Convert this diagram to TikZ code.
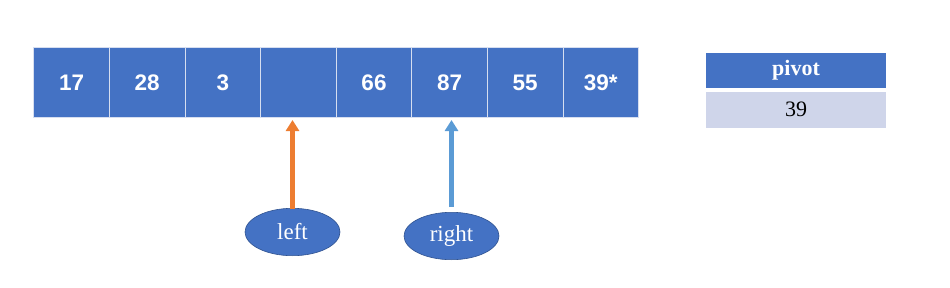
\documentclass[tikz,border=0pt]{standalone}
\usepackage{fontspec}
\setmainfont{Liberation Serif}
\newfontfamily\arialf{Liberation Sans}
\usetikzlibrary{arrows.meta,shapes.geometric}
\definecolor{cblue}{HTML}{4472C4}
\definecolor{cline}{HTML}{D6DEF0}
\definecolor{clight}{HTML}{CFD5EA}
\definecolor{corange}{HTML}{ED7D31}
\definecolor{carrowblue}{HTML}{5B9BD5}
\definecolor{cedge}{HTML}{2F528F}
\begin{document}
\begin{tikzpicture}[x=1pt,y=-1pt,
  cell/.style={draw=cline, line width=1pt, fill=cblue, minimum width=75.6pt,
    minimum height=70pt, inner sep=0pt, text=white, anchor=north west,
    font=\arialf\bfseries\fontsize{22.5}{26}\selectfont},
  pivhead/.style={fill=cblue, minimum width=179.7pt, minimum height=35.4pt,
    inner sep=0pt, anchor=north west, text=white,
    font=\bfseries\fontsize{22}{26}\selectfont},
  pivval/.style={fill=clight, minimum width=179.7pt, minimum height=35.6pt,
    inner sep=0pt, anchor=north west, text=black,
    font=\fontsize{22}{26}\selectfont},
  ptr/.style={ellipse, fill=cblue, draw=cedge, line width=0.6pt,
    minimum width=95pt, minimum height=47.4pt, inner sep=0pt, text=white,
    font=\fontsize{23}{26}\selectfont},
  arr/.style={line width=4.2pt, -{Triangle[width=13pt,length=11pt]}}
]
\useasboundingbox (0,0) rectangle (950,287);
\node[cell] (c1) at (33.3,47) {17};
\node[cell] (c2) at (108.9,47) {28};
\node[cell] (c3) at (184.5,47) {3};
\node[cell] (c4) at (260.1,47) {};
\node[cell] (c5) at (335.7,47) {66};
\node[cell] (c6) at (411.3,47) {87};
\node[cell] (c7) at (486.9,47) {55};
\node[cell] (c8) at (562.5,47) {39*};

\node[pivhead] (ph) at (706,52.3) {pivot};
\node[pivval] (pv) at (706,91.7) {39};

\node[ptr] (left) at (292.5,232) {left};
\node[ptr] (right) at (451.5,236) {right};

\draw[arr, corange, shorten <=-1pt, shorten >=2pt] (left.north) -- (left.north |- c4.south);
\draw[arr, carrowblue, shorten <=5pt, shorten >=2pt] (right.north) -- (right.north |- c6.south);
\end{tikzpicture}
\end{document}
